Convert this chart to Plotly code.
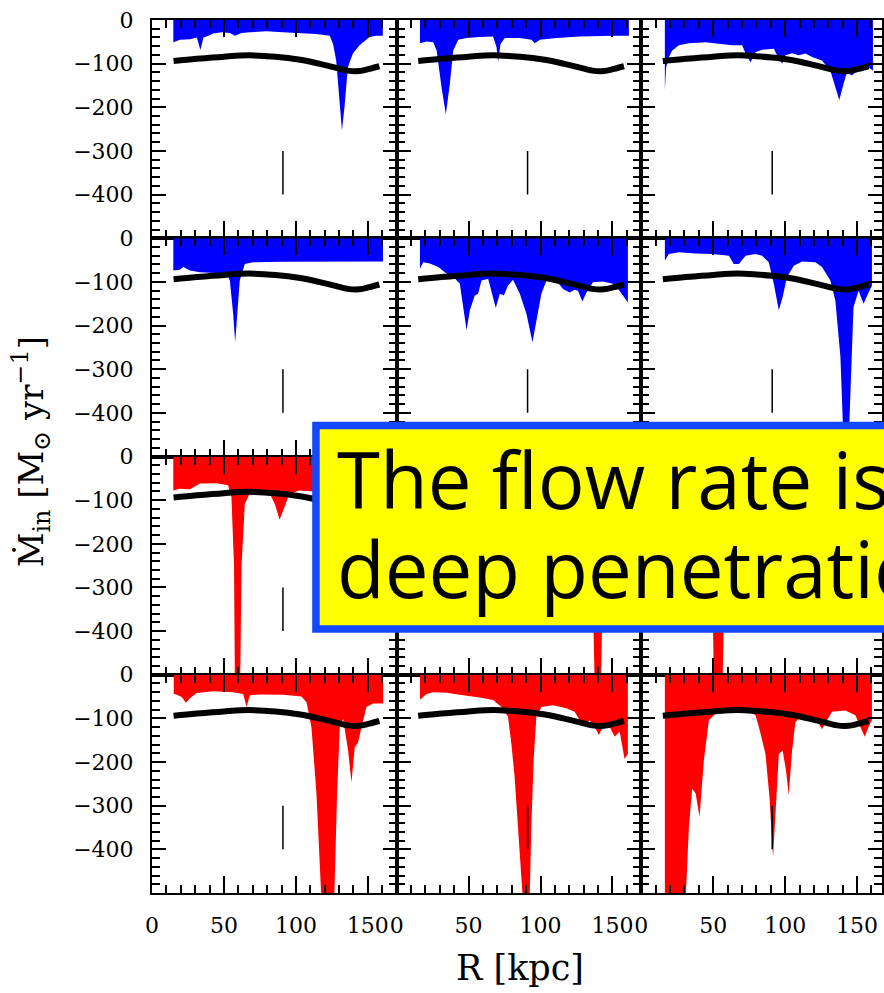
import plotly.graph_objects as go
from plotly.subplots import make_subplots

# ---------------- data (R in kpc, inflow rate in Msun/yr) ----------------
ref_x = [15, 31, 50, 67, 80, 91, 103, 116, 126, 136, 144, 151, 158]
ref_y = [-94, -89, -84, -81, -83, -86, -91, -100, -108, -116, -117, -112, -106]

mark_x = [91, 91]
mark_y = [-300, -400]

r1c1_x = [14.8, 19.4, 26.6, 31.2, 33.6, 35.8, 39.1, 42.5, 48.3, 54.1, 57.6, 62.2, 68, 79.5, 91,
          102.7, 114, 123.5, 125.8, 128, 130.4, 132, 133.8, 136.1, 139.6, 144.2, 151.2, 155.8, 160.4]
r1c1_y = [-51, -45, -44, -40, -69, -40, -36, -31, -28, -30, -36, -30, -28, -26, -28,
          -30, -32, -36, -55, -93, -184, -253, -199, -108, -77, -58, -39, -36, -36]

r1c2_x = [16.2, 20.8, 25.4, 27.8, 31.2, 34.2, 37, 39.3, 42.8, 48.6, 57.8, 67, 69.4, 70.5, 72.2,
          75.2, 85.6, 93.7, 96, 99.5, 111, 127.2, 150.3, 161.4]
r1c2_y = [-53, -49, -51, -70, -154, -216, -146, -70, -45, -41, -39, -38, -62, -97, -55,
          -41, -41, -45, -53, -45, -41, -38, -36, -36]

r1c3_x = [16.4, 17.3, 19.2, 21.5, 26.2, 33.1, 44.7, 58.6, 63.2, 70.1, 72.5, 75.9, 79.4, 84, 92.1,
          94.4, 97.9, 100.2, 104.8, 109.4, 114.1, 118.7, 125.6, 131.4, 134.9, 137.6, 140.6, 142.9,
          146.4, 151, 158, 161]
r1c3_y = [-161, -108, -85, -70, -58, -53, -51, -55, -58, -58, -77, -97, -74, -68, -66,
          -81, -100, -81, -76, -81, -77, -85, -93, -116, -154, -183, -146, -120,
          -127, -112, -108, -116]

r2c1_x = [14.8, 19.3, 21.8, 26.4, 33.3, 42.5, 51.8, 54.1, 56.4, 57.8, 59.2, 61, 64.5, 70.3, 91,
          125.8, 160.5]
r2c1_y = [-74, -72, -66, -74, -78, -80, -81, -97, -173, -238, -173, -97, -59, -55, -54,
          -53, -53]

r2c2_x = [16.2, 18.5, 23.1, 28.9, 34.7, 40.5, 43.9, 46.2, 48.6, 50.9, 54.3, 56.6, 59, 63.6, 65.9,
          68.9, 71.7, 74.5, 77.4, 80.9, 85.6, 90.2, 94.4, 97.1, 100.6, 104.1, 111, 115.6, 120.3,
          123.7, 126, 129.1, 131.9, 136.4, 143.4, 150.3, 154.9, 160.7]
r2c2_y = [-70, -55, -58, -66, -81, -92, -104, -157, -211, -165, -131, -127, -97, -93, -120,
          -160, -127, -131, -108, -95, -127, -173, -238, -188, -127, -97, -97, -116, -124,
          -118, -120, -145, -124, -101, -99, -104, -120, -147]

r2c3_x = [16.4, 19.2, 26.2, 37.8, 49.3, 60.9, 64.3, 67.8, 72.5, 79.4, 84, 88.6, 92.1, 95.6, 98.3,
          101.3, 106, 111.8, 121, 125.6, 131.4, 134.9, 138.4, 140.6, 144.1, 147.5, 151, 154.5,
          158, 160.3]
r2c3_y = [-51, -36, -32, -35, -36, -40, -59, -59, -40, -36, -40, -55, -104, -165, -134,
          -89, -63, -53, -55, -66, -97, -143, -272, -470, -470, -158, -120, -150,
          -124, -109]

r3c1_x = [14.8, 19.4, 26.4, 33.3, 44.8, 52.9, 55.2, 57.0, 57.6, 61.3, 62.2, 64.5, 68, 74.9, 81.8,
          85.3, 88.7, 92.2, 95.6, 102.6, 111.8, 120, 130, 140, 150, 160]
r3c1_y = [-78, -74, -75, -62, -61, -66, -93, -250, -520, -520, -250, -108, -85, -78, -85,
          -108, -145, -116, -85, -78, -80, -82, -90, -85, -80, -82]

r3c2_x = [16, 30, 50, 70, 90, 110, 130, 135, 137, 137.6, 142, 142.8, 145, 150, 161]
r3c2_y = [-60, -55, -50, -60, -70, -65, -80, -110, -380, -520, -520, -380, -110, -90, -95]

r3c3_x = [16, 30, 45, 47, 49.8, 50.5, 56.5, 57.3, 60, 80, 100, 120, 140, 161]
r3c3_y = [-70, -60, -80, -100, -380, -520, -520, -380, -100, -70, -80, -90, -85, -95]

r4c1_x = [15.1, 16.9, 20.6, 23.6, 26.4, 31, 42.5, 56.4, 63.4, 65.7, 68, 75, 91.1, 103.9, 107.4,
          110.8, 114.3, 117.8, 126.6, 128.6, 130.5, 132.8, 136.3, 138.6, 140.9, 143.2, 145.6, 149,
          153.7, 160.6]
r4c1_y = [-44, -45, -51, -64, -54, -42, -38, -40, -44, -74, -47, -45, -46, -50, -63,
          -120, -273, -520, -520, -273, -120, -101, -174, -247, -166, -155, -120, -74,
          -66, -66]

r4c2_x = [16.2, 20.8, 25.4, 34.7, 46.2, 57.8, 67, 73.9, 77.4, 79.7, 82, 84.3, 86.6, 87.8, 92.4,
          93.6, 95.2, 97.1, 100.6, 108.6, 117.9, 123.7, 127.2, 131.9, 134.2, 137.6, 140.6, 143.9,
          148, 151.5, 155, 158.4, 160.7]
r4c2_y = [-57, -44, -40, -41, -47, -52, -58, -77, -96, -157, -234, -349, -463, -520, -520,
          -349, -196, -96, -74, -70, -77, -85, -104, -111, -104, -119, -138, -115,
          -119, -142, -130, -193, -181]

r4c3_x = [16.4, 30.8, 33.1, 35.4, 37.8, 40.5, 43.5, 47, 51.6, 56.2, 63.2, 72.5, 79.4, 81.7, 86.3,
          89.1, 91.6, 93.7, 95.6, 98.3, 100.6, 102.5, 104.8, 107.1, 111.7, 118.7, 123.3, 125.6,
          128, 132.5, 141.8, 148.8, 152.2, 155.3, 158, 160.3]
r4c3_y = [-520, -520, -349, -261, -272, -326, -196, -104, -89, -89, -82, -82, -93, -119, -181,
          -280, -418, -288, -181, -174, -220, -276, -174, -109, -93, -97, -111, -125,
          -111, -85, -82, -93, -119, -142, -119, -104]

x_tickvals = [0, 50, 100, 150]
y_tickvals = [0, -100, -200, -300, -400]

BLUE = "#0000ff"
RED = "#ff0000"

panels = [
    (1, 1, r1c1_x, r1c1_y, BLUE), (1, 2, r1c2_x, r1c2_y, BLUE), (1, 3, r1c3_x, r1c3_y, BLUE),
    (2, 1, r2c1_x, r2c1_y, BLUE), (2, 2, r2c2_x, r2c2_y, BLUE), (2, 3, r2c3_x, r2c3_y, BLUE),
    (3, 1, r3c1_x, r3c1_y, RED), (3, 2, r3c2_x, r3c2_y, RED), (3, 3, r3c3_x, r3c3_y, RED),
    (4, 1, r4c1_x, r4c1_y, RED), (4, 2, r4c2_x, r4c2_y, RED), (4, 3, r4c3_x, r4c3_y, RED),
]

# ---------------- layout geometry (pixels) ----------------
W, H = 884, 993
ML, MR, MT, MB = 152, 0, 20, 100
PW = W - ML - MR
PH = H - MT - MB


def px(xp):
    return (xp - ML) / PW


def py(yp):
    return (H - MB - yp) / PH


fig = make_subplots(rows=4, cols=3, horizontal_spacing=0, vertical_spacing=0,
                    column_widths=[245.3, 245.3, 241.4])

for (r, c, xs, ys, col) in panels:
    fig.add_trace(go.Scatter(x=xs, y=ys, mode="lines", fill="tozeroy",
                             line=dict(width=0, color=col), fillcolor=col,
                             hoverinfo="skip", showlegend=False), row=r, col=c)
    fig.add_trace(go.Scatter(x=ref_x, y=ref_y, mode="lines",
                             line=dict(width=6, color="black", shape="spline"),
                             hoverinfo="skip", showlegend=False), row=r, col=c)
    fig.add_trace(go.Scatter(x=mark_x, y=mark_y, mode="lines",
                             line=dict(width=1.5, color="black"),
                             hoverinfo="skip", showlegend=False), row=r, col=c)

tickfont = dict(family="DejaVu Serif", size=22, color="black")

fig.update_xaxes(showline=True, linecolor="black", linewidth=2, mirror="ticks",
                 ticks="inside", ticklen=17, tickwidth=2, tickcolor="black",
                 tickmode="array", tickvals=x_tickvals,
                 minor=dict(tickmode="linear", tick0=0, dtick=10, ticks="inside",
                            ticklen=8, tickwidth=1.5, tickcolor="black", showgrid=False),
                 showgrid=False, zeroline=False, tickfont=tickfont,
                 ticklabelstandoff=12, showticklabels=False)
fig.update_yaxes(showline=True, linecolor="black", linewidth=2, mirror="ticks",
                 ticks="inside", ticklen=14, tickwidth=2, tickcolor="black",
                 tickmode="array", tickvals=y_tickvals, range=[-500, 0],
                 minor=dict(tickmode="linear", tick0=0, dtick=20, ticks="inside",
                            ticklen=8, tickwidth=1.5, tickcolor="black", showgrid=False),
                 showgrid=False, zeroline=False, tickfont=tickfont,
                 ticklabelstandoff=12, showticklabels=False)

for r in range(1, 5):
    fig.update_xaxes(range=[0, 170], row=r, col=1)
    fig.update_xaxes(range=[0, 170], row=r, col=2)
    fig.update_xaxes(range=[0, 170 * 241.4 / 245.3], row=r, col=3)
    fig.update_yaxes(showticklabels=True, row=r, col=1)
for c in range(1, 4):
    fig.update_xaxes(showticklabels=True, row=4, col=c)

# yellow call-out box (extends past the right edge, as in the reference)
fig.add_shape(type="rect", xref="paper", yref="paper",
              x0=px(316.4), x1=px(960), y0=py(629), y1=py(425.5),
              line=dict(color="#1448ff", width=7.5), fillcolor="#ffff00", layer="above")

fig.add_annotation(xref="paper", yref="paper", x=px(337), y=py(479),
                   xanchor="left", yanchor="middle", showarrow=False, borderpad=0,
                   text="The flow rate is",
                   font=dict(family="Open Sans", size=78, color="black"))
fig.add_annotation(xref="paper", yref="paper", x=px(337), y=py(568),
                   xanchor="left", yanchor="middle", showarrow=False, borderpad=0,
                   text="deep penetration",
                   font=dict(family="Open Sans", size=78, color="black"))

# axis titles
fig.add_annotation(xref="paper", yref="paper", x=px(521), y=py(968),
                   xanchor="center", yanchor="middle", showarrow=False,
                   text="R [kpc]", font=dict(family="DejaVu Serif", size=35, color="black"))
fig.add_annotation(xref="paper", yref="paper", x=px(30), y=py(452),
                   xanchor="center", yanchor="middle", showarrow=False, textangle=-90,
                   text="\u1E40<sub>in</sub> [M<sub>\u2299</sub> yr<sup>\u22121</sup>]",
                   font=dict(family="DejaVu Serif", size=34, color="black"))

fig.update_layout(width=W, height=H, margin=dict(l=ML, r=MR, t=MT, b=MB),
                  paper_bgcolor="white", plot_bgcolor="white", showlegend=False)

fig.write_html("out.html")
